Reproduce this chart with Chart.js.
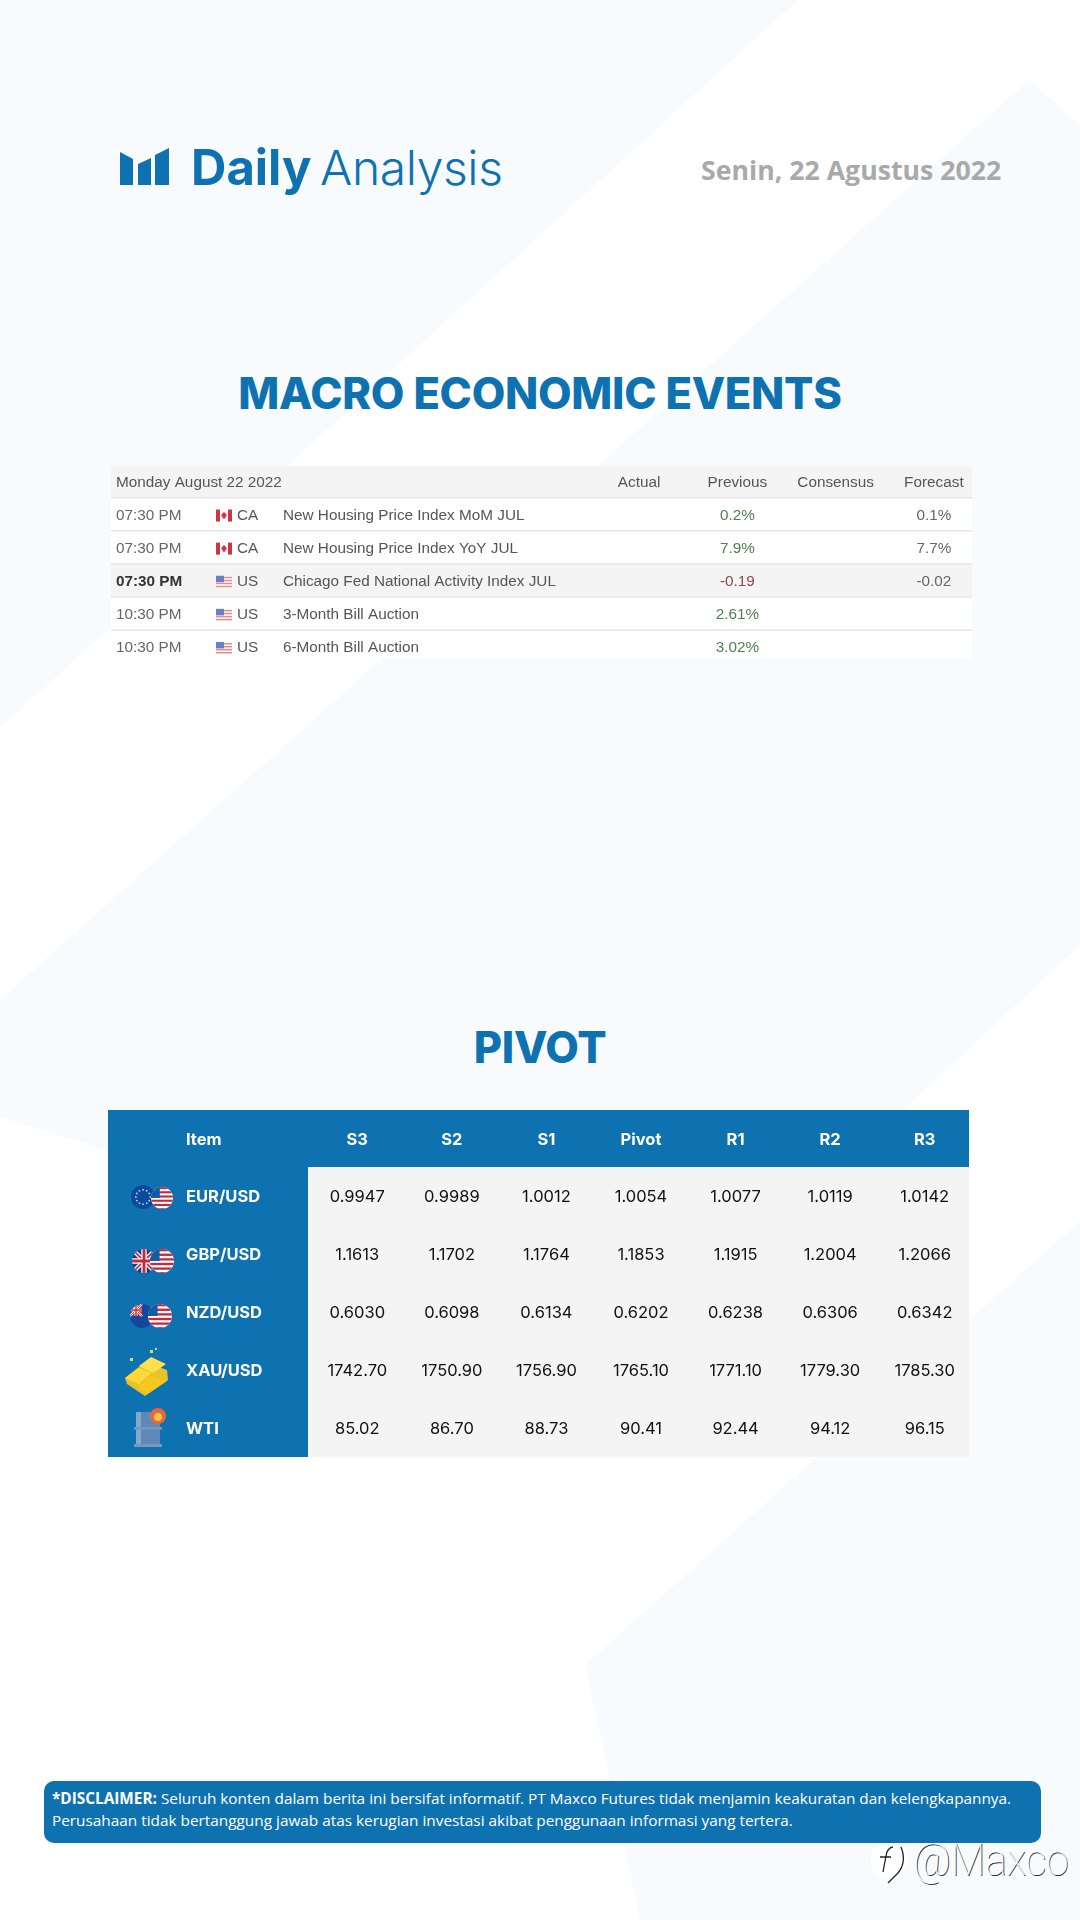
<!DOCTYPE html>
<html>
<head>
<meta charset="utf-8">
<script src="https://cdn.jsdelivr.net/npm/chart.js@4"></script>
<style>
  html, body { margin: 0; padding: 0; background: #fff; }
  #page { position: relative; width: 1080px; height: 1920px; overflow: hidden; }
  #page > * { position: absolute; }
  .title { left: 0; width: 1080px; text-align: center; color: #0f72b0; font: 800 43.5px Inter, sans-serif; letter-spacing: -0.3px; white-space: nowrap; }
  #daily { left: 191px; top: 139px; color: #0f72b0; font: 700 49px/58px Inter, sans-serif; letter-spacing: 0; }
  #analysis { left: 320px; top: 139px; color: #0f72b0; font: 300 48px/58px Inter, sans-serif; letter-spacing: -0.4px; }
  #date { left: 701px; top: 152px; color: #a9a9a9; font: 700 26.7px/36px "Open Sans", sans-serif; white-space: nowrap; }
  #disclaimer { left: 44px; top: 1781px; width: 997px; height: 62px; box-sizing: border-box; padding: 6px 8px; background: #0f72b0; border-radius: 10px;
    color: #fff; font: 400 15.35px/22px "Open Sans", sans-serif; white-space: nowrap; }
  #mark { left: 913px; top: 1832px; color: #fff; font: 100 45px/56px Roboto, sans-serif; text-shadow: 1px 1px 0 #333; white-space: nowrap; transform: scaleX(0.9); transform-origin: left top; }
</style>
</head>
<body>
<div id="page">
  <svg width="1080" height="1920" style="left:0;top:0">
    <polygon fill="#f7fbfe" points="0,0 798,0 0,728"/>
    <polygon fill="#f7fbfe" points="0,1000 1029,80 1080,125 1080,945 850,1160 400,1240 0,1117"/>
    <polygon fill="#f7fbfe" points="585,1665 1080,1221 1080,1920 640,1920"/>
    <polygon fill="#0f72b0" points="120,152 133,159 133,185 120,185"/>
    <polygon fill="#0f72b0" points="138,164 151,158 151,185 138,185"/>
    <polygon fill="#0f72b0" points="155,155 169,148 169,185 155,185"/>
  </svg>
  <div id="daily">Daily</div>
  <div id="analysis">Analysis</div>
  <div id="date">Senin, 22 Agustus 2022</div>
  <div class="title" style="top:367px;line-height:52px">MACRO ECONOMIC EVENTS</div>
  <canvas id="events_chart" width="1080" height="220" style="left:0;top:455px"></canvas>
  <div class="title" style="top:1021px;line-height:52px">PIVOT</div>
  <canvas id="pivot_chart" width="1080" height="370" style="left:0;top:1100px"></canvas>
  <div id="disclaimer"><b>*DISCLAIMER:</b> Seluruh konten dalam berita ini bersifat informatif. PT Maxco Futures tidak menjamin keakuratan dan kelengkapannya.<br>Perusahaan tidak bertanggung jawab atas kerugian investasi akibat penggunaan informasi yang tertera.</div>
  <svg width="44" height="48" style="left:868px;top:1840px">
    <path fill="#fff" d="M16 3 H28 Q40 3 40 18 Q40 34 26 38 L16 38 Q3 36 3 20 Q3 3 16 3Z"/>
    <path fill="none" stroke="#222" stroke-width="1.3" d="M25 7 Q19 8 18 16 L15 32 M12 17 H23 M33 7 Q39 22 30 33 L20 43"/>
  </svg>
  <div id="mark">@Maxco</div>
</div>
<script>
// macro calendar
const calendarDay = 'Monday August 22 2022';
const eventColumns = ['Actual', 'Previous', 'Consensus', 'Forecast'];
const eventRows = ['r1', 'r2', 'r3', 'r4', 'r5'];
const eventTimes = ['07:30 PM', '07:30 PM', '07:30 PM', '10:30 PM', '10:30 PM'];
const eventCountries = ['CA', 'CA', 'US', 'US', 'US'];
const eventNames = [
    'New Housing Price Index MoM JUL',
    'New Housing Price Index YoY JUL',
    'Chicago Fed National Activity Index JUL',
    '3-Month Bill Auction',
    '6-Month Bill Auction'
];
const actualValues = [null, null, null, null, null];
const previousValues = ['0.2%', '7.9%', '-0.19', '2.61%', '3.02%'];
const consensusValues = [null, null, null, null, null];
const forecastValues = ['0.1%', '7.7%', '-0.02', null, null];
const eventValues = [actualValues, previousValues, consensusValues, forecastValues];

// pivot table
const pivotColumns = ['S3', 'S2', 'S1', 'Pivot', 'R1', 'R2', 'R3'];
const pivotItems = ['EUR/USD', 'GBP/USD', 'NZD/USD', 'XAU/USD', 'WTI'];
const s3Values = ['0.9947', '1.1613', '0.6030', '1742.70', '85.02'];
const s2Values = ['0.9989', '1.1702', '0.6098', '1750.90', '86.70'];
const s1Values = ['1.0012', '1.1764', '0.6134', '1756.90', '88.73'];
const pivotValues = ['1.0054', '1.1853', '0.6202', '1765.10', '90.41'];
const r1Values = ['1.0077', '1.1915', '0.6238', '1771.10', '92.44'];
const r2Values = ['1.0119', '1.2004', '0.6306', '1779.30', '94.12'];
const r3Values = ['1.0142', '1.2066', '0.6342', '1785.30', '96.15'];
const pivotTable = [s3Values, s2Values, s1Values, pivotValues, r1Values, r2Values, r3Values];

const BLUE = '#0f72b0';

function make_datasets(columns, rows, table)
{
    return columns.map(function(col, i){
        return {
            label: col,
            data: rows.map(function(row){ return {x: col, y: row}; }),
            texts: table[i],
            pointRadius: 0
        };
    });
}

function draw_cell_text(chart, font, colorOf)
{
    const ctx = chart.ctx;
    ctx.save();
    ctx.font = font;
    ctx.textAlign = 'center';
    ctx.textBaseline = 'middle';
    chart.data.datasets.forEach(function(ds, i){
        chart.getDatasetMeta(i).data.forEach(function(pt, j){
            if (ds.texts[j] !== null){
                ctx.fillStyle = colorOf(ds.texts[j], ds.label);
                ctx.fillText(ds.texts[j], pt.x, pt.y);
            }
        });
    });
    ctx.restore();
}

function rect_flag(ctx, code, x, y)
{
    const w = 16, h = 12;
    ctx.save();
    ctx.fillStyle = '#fff';
    ctx.fillRect(x, y - h / 2, w, h);
    if (code === 'CA'){
        ctx.fillStyle = '#d0343f';
        ctx.fillRect(x, y - h / 2, 4, h);
        ctx.fillRect(x + w - 4, y - h / 2, 4, h);
        ctx.fillRect(x + 6.5, y - 3, 3, 6);
        ctx.fillRect(x + 5.5, y - 1.5, 5, 2.5);
    } else {
        ctx.fillStyle = '#e58a8a';
        for (let s = 0; s < 4; s++) ctx.fillRect(x, y - h / 2 + s * 3 + 1, w, 1.5);
        ctx.fillStyle = '#6a80c0';
        ctx.fillRect(x, y - h / 2, 8, 6.5);
    }
    ctx.restore();
}

function circle_clip(ctx, x, y, r, fill)
{
    ctx.beginPath();
    ctx.arc(x, y, r, 0, Math.PI * 2);
    ctx.fillStyle = fill;
    ctx.fill();
    ctx.clip();
}

function us_circle(ctx, x, y, r)
{
    ctx.save();
    circle_clip(ctx, x, y, r, '#fff');
    ctx.fillStyle = '#c8283c';
    for (let s = -r; s < r; s += r / 2.6) ctx.fillRect(x - r, y + s, 2 * r, r / 5.2);
    ctx.fillStyle = '#0f5ca8';
    ctx.fillRect(x - r, y - r, r * 0.8, r);
    ctx.restore();
}

function eu_circle(ctx, x, y, r)
{
    ctx.save();
    circle_clip(ctx, x, y, r, '#0c4a9e');
    ctx.fillStyle = '#cfe0f5';
    for (let s = 0; s < 12; s++){
        const a = s * Math.PI / 6;
        ctx.fillRect(x + Math.cos(a) * r * 0.6 - 0.7, y + Math.sin(a) * r * 0.6 - 0.7, 1.5, 1.5);
    }
    ctx.restore();
}

function union_cross(ctx, x, y, r)
{
    const line = function(x1, y1, x2, y2, w, c){
        ctx.strokeStyle = c;
        ctx.lineWidth = w;
        ctx.beginPath();
        ctx.moveTo(x1, y1);
        ctx.lineTo(x2, y2);
        ctx.stroke();
    };
    line(x - r, y - r, x + r, y + r, r * 0.35, '#fff');
    line(x - r, y + r, x + r, y - r, r * 0.35, '#fff');
    line(x - r, y - r, x + r, y + r, r * 0.14, '#c8283c');
    line(x - r, y + r, x + r, y - r, r * 0.14, '#c8283c');
    line(x - r, y, x + r, y, r * 0.45, '#fff');
    line(x, y - r, x, y + r, r * 0.45, '#fff');
    line(x - r, y, x + r, y, r * 0.24, '#c8283c');
    line(x, y - r, x, y + r, r * 0.24, '#c8283c');
}

function uk_circle(ctx, x, y, r)
{
    ctx.save();
    circle_clip(ctx, x, y, r, '#103f8e');
    union_cross(ctx, x, y, r);
    ctx.restore();
}

function nz_circle(ctx, x, y, r)
{
    ctx.save();
    circle_clip(ctx, x, y, r, '#1347a0');
    ctx.fillStyle = '#c8283c';
    ctx.fillRect(x - r, y - r, r, r);
    union_cross(ctx, x - r * 0.5, y - r * 0.5, r * 0.5);
    ctx.restore();
}

function gold_icon(ctx, x, y)
{
    const poly = function(c, pts){
        ctx.fillStyle = c;
        ctx.beginPath();
        pts.forEach(function(p, i){
            if (i === 0) ctx.moveTo(x + p[0], y + p[1]);
            else ctx.lineTo(x + p[0], y + p[1]);
        });
        ctx.closePath();
        ctx.fill();
    };
    poly('#e8c22a', [[-22, 2], [-2, -14], [20, -6], [21, 4], [-2, 20], [-20, 8]]);
    poly('#ffd83a', [[-22, 2], [-8, -8], [4, -3], [-8, 8]]);
    poly('#ffe04d', [[-8, -10], [4, -19], [19, -12], [6, -3]]);
    poly('#f6c81e', [[-10, 11], [4, 0], [20, 5], [2, 17]]);
    ctx.fillStyle = '#cfe05a';
    ctx.fillRect(x + 3, y - 26, 3, 3);
    ctx.fillRect(x + 8, y - 28, 2, 2);
    ctx.fillRect(x - 17, y - 18, 3, 3);
}

function barrel_icon(ctx, x, y)
{
    ctx.fillStyle = '#5f88b8';
    ctx.fillRect(x - 12, y - 17, 24, 35);
    ctx.fillStyle = '#86a7cc';
    ctx.fillRect(x - 12, y - 17, 5, 35);
    ctx.fillStyle = '#7797bd';
    ctx.fillRect(x - 14, y - 2, 28, 2.5);
    ctx.fillRect(x - 14, y + 15, 28, 3);
    ctx.beginPath();
    ctx.arc(x + 10, y - 13, 8, 0, Math.PI * 2);
    ctx.fillStyle = '#e8673c';
    ctx.fill();
    ctx.beginPath();
    ctx.arc(x + 10, y - 12, 4, 0, Math.PI * 2);
    ctx.fillStyle = '#ffc04a';
    ctx.fill();
}

// calendar table, only the right hand columns sit on the scale
const events_panel = {
    id: 'events_panel',
    beforeDraw(chart){
        const ctx = chart.ctx, yScale = chart.scales.y, area = chart.chartArea;
        const left = 111, right = 972, rowH = yScale.getPixelForValue(1) - yScale.getPixelForValue(0);
        const bodyTop = area.top - 1, bottom = area.bottom - 6;
        ctx.save();
        ctx.fillStyle = '#f4f4f4';
        ctx.fillRect(left, bodyTop - 32, right - left, 32);
        ctx.fillStyle = '#ffffff';
        ctx.fillRect(left, bodyTop, right - left, bottom - bodyTop);
        ctx.fillStyle = '#f4f4f4';
        ctx.fillRect(left, yScale.getPixelForValue(2) - rowH / 2 - 1, right - left, rowH);
        ctx.fillStyle = '#e6e6e6';
        for (let i = 0; i < 4; i++){
            ctx.fillRect(left, yScale.getPixelForValue(i) + rowH / 2 - 2, right - left, 1.5);
        }
        ctx.fillRect(left, bodyTop - 1, right - left, 1.5);
        ctx.restore();
    },
    afterDraw(chart){
        const ctx = chart.ctx, yScale = chart.scales.y, area = chart.chartArea;
        ctx.save();
        ctx.textBaseline = 'middle';
        ctx.font = '15.3px "Liberation Sans"';
        ctx.fillStyle = '#555';
        ctx.fillText(calendarDay, 116, area.top - 16);
        eventTimes.forEach(function(t, i){
            const y = yScale.getPixelForValue(i);
            ctx.font = (i === 2 ? 'bold ' : '') + '15.3px "Liberation Sans"';
            ctx.fillStyle = i === 2 ? '#333' : '#666';
            ctx.fillText(t, 116, y);
            ctx.font = '15.3px "Liberation Sans"';
            ctx.fillStyle = '#555';
            ctx.fillText(eventCountries[i], 237, y);
            ctx.fillText(eventNames[i], 283, y);
            rect_flag(ctx, eventCountries[i], 216, y);
        });
        ctx.restore();
        draw_cell_text(chart, '15.3px "Liberation Sans"', function(text, col){
            if (col !== 'Previous') return '#666';
            return text.charAt(0) === '-' ? '#8a4a4a' : '#4f7f50';
        });
    }
};

// pivot table, row names are the y ticks and column names the x ticks
const pivot_panel = {
    id: 'pivot_panel',
    beforeDraw(chart){
        const ctx = chart.ctx, area = chart.chartArea;
        const left = 108, splitX = area.left - 2, right = area.right - 3;
        const bodyTop = area.top - 1, bottom = area.bottom - 1;
        ctx.save();
        ctx.fillStyle = '#f4f4f5';
        ctx.fillRect(splitX, bodyTop, right - splitX, bottom - bodyTop);
        ctx.fillStyle = BLUE;
        ctx.fillRect(left, bodyTop - 57, right - left, 57);
        ctx.fillRect(left, bodyTop, splitX - left, bottom - bodyTop);
        ctx.restore();
    },
    afterDraw(chart){
        const ctx = chart.ctx, area = chart.chartArea, yScale = chart.scales.y;
        ctx.save();
        ctx.font = '700 16.5px Inter';
        ctx.textBaseline = 'middle';
        ctx.fillStyle = '#fff';
        ctx.fillText('Item', 186, area.top - 28);
        const row = function(i){ return yScale.getPixelForValue(i); };
        eu_circle(ctx, 143, row(0), 12);
        us_circle(ctx, 162, row(0) + 1, 11);
        uk_circle(ctx, 144, row(1) + 6, 12);
        us_circle(ctx, 162, row(1) + 6, 12);
        nz_circle(ctx, 142, row(2) + 3, 12);
        us_circle(ctx, 160, row(2) + 3, 12);
        gold_icon(ctx, 147, row(3) + 5);
        barrel_icon(ctx, 148, row(4));
        ctx.restore();
        draw_cell_text(chart, '400 16.5px Inter', function(){ return '#111'; });
    }
};

Chart.defaults.animation = false;
Chart.defaults.responsive = false;

new Chart(document.getElementById('events_chart'), {
    type: 'scatter',
    data: { datasets: make_datasets(eventColumns, eventRows, eventValues) },
    options: {
        devicePixelRatio: 1,
        layout: { padding: { left: 590, right: 97, top: 12, bottom: 10.5 } },
        plugins: { legend: { display: false }, tooltip: { enabled: false } },
        scales: {
            x: {
                type: 'category', labels: eventColumns, position: 'top', offset: true,
                grid: { display: false }, border: { display: false },
                ticks: { autoSkip: false, maxRotation: 0, padding: -1, color: '#555', font: { family: 'Liberation Sans', size: 15.3 } },
                afterFit(scale){ scale.height = 32; }
            },
            y: { type: 'category', labels: eventRows, offset: true, display: false }
        }
    },
    plugins: [events_panel]
});

new Chart(document.getElementById('pivot_chart'), {
    type: 'scatter',
    data: { datasets: make_datasets(pivotColumns, pivotItems, pivotTable) },
    options: {
        devicePixelRatio: 1,
        layout: { padding: { left: 186, right: 108, top: 11, bottom: 12 } },
        plugins: { legend: { display: false }, tooltip: { enabled: false } },
        scales: {
            x: {
                type: 'category', labels: pivotColumns, position: 'top', offset: true,
                grid: { display: false }, border: { display: false },
                ticks: { autoSkip: false, maxRotation: 0, padding: 10, color: '#fff', font: { family: 'Inter', size: 16.5, weight: '700' } },
                afterFit(scale){ scale.height = 57; }
            },
            y: {
                type: 'category', labels: pivotItems, offset: true,
                grid: { display: false }, border: { display: false },
                ticks: { crossAlign: 'far', autoSkip: false, padding: 0, color: '#fff', font: { family: 'Inter', size: 16.5, weight: '700' } },
                afterFit(scale){ scale.width = 124; }
            }
        }
    },
    plugins: [pivot_panel]
});
</script>
</body>
</html>
